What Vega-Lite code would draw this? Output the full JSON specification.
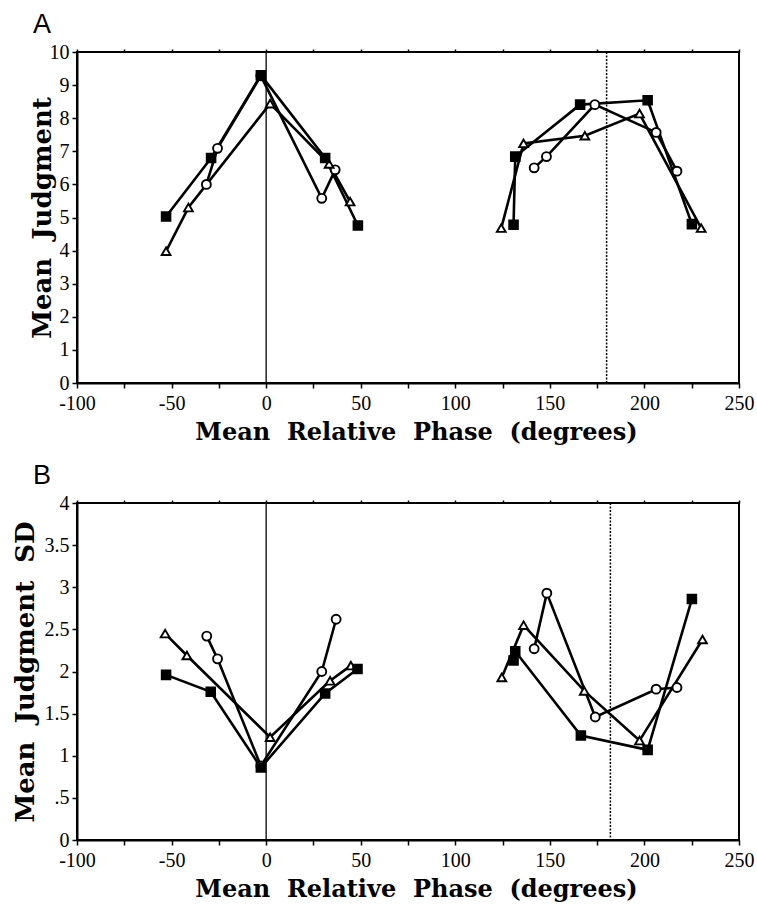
{
  "$schema": "https://vega.github.io/schema/vega-lite/v6.json",
  "background": "white",
  "padding": {"left": 11, "top": 10, "right": 0, "bottom": 0},
  "spacing": 16,
  "config": {
    "view": {"stroke": "black", "strokeWidth": 2},
    "axis": {"domainColor": "black", "domainWidth": 2, "tickColor": "black", "tickWidth": 1.5, "tickSize": 5, "labelFont": "Liberation Serif", "labelFontSize": 20, "labelColor": "black", "titleFont": "DejaVu Serif", "titleFontSize": 23, "titleFontWeight": "bold", "titleColor": "black", "grid": false, "labelPadding": 3, "labelOverlap": false, "labelFlush": false},
    "title": {"font": "Liberation Sans", "fontSize": 27, "fontWeight": "normal", "color": "black", "anchor": "start", "frame": "group"}
  },
  "datasets": {
    "A": [
      {"g": "cL", "s": "c", "o": 1, "x": -31.6, "y": 6.0},
      {"g": "cL", "s": "c", "o": 2, "x": -25.7, "y": 7.09},
      {"g": "cL", "s": "c", "o": 3, "x": -2.8, "y": 9.28},
      {"g": "cL", "s": "c", "o": 4, "x": 29.4, "y": 5.58},
      {"g": "cL", "s": "c", "o": 5, "x": 36.5, "y": 6.44},
      {"g": "cR", "s": "c", "o": 1, "x": 141.7, "y": 6.5},
      {"g": "cR", "s": "c", "o": 2, "x": 148.2, "y": 6.84},
      {"g": "cR", "s": "c", "o": 3, "x": 173.8, "y": 8.41},
      {"g": "cR", "s": "c", "o": 4, "x": 206.2, "y": 7.57},
      {"g": "cR", "s": "c", "o": 5, "x": 217.2, "y": 6.4},
      {"g": "tL", "s": "t", "o": 1, "x": -52.9, "y": 3.98},
      {"g": "tL", "s": "t", "o": 2, "x": -41.1, "y": 5.3},
      {"g": "tL", "s": "t", "o": 3, "x": 2.1, "y": 8.44},
      {"g": "tL", "s": "t", "o": 4, "x": 33.3, "y": 6.62},
      {"g": "tL", "s": "t", "o": 5, "x": 44.4, "y": 5.48},
      {"g": "tR", "s": "t", "o": 1, "x": 124.3, "y": 4.68},
      {"g": "tR", "s": "t", "o": 2, "x": 136.1, "y": 7.24},
      {"g": "tR", "s": "t", "o": 3, "x": 168.5, "y": 7.47},
      {"g": "tR", "s": "t", "o": 4, "x": 197.4, "y": 8.14},
      {"g": "tR", "s": "t", "o": 5, "x": 230.0, "y": 4.68},
      {"g": "qL", "s": "q", "o": 1, "x": -52.9, "y": 5.03},
      {"g": "qL", "s": "q", "o": 2, "x": -29.1, "y": 6.8},
      {"g": "qL", "s": "q", "o": 3, "x": -2.8, "y": 9.3},
      {"g": "qL", "s": "q", "o": 4, "x": 31.2, "y": 6.8},
      {"g": "qL", "s": "q", "o": 5, "x": 48.5, "y": 4.76},
      {"g": "qR", "s": "q", "o": 1, "x": 130.8, "y": 4.78},
      {"g": "qR", "s": "q", "o": 2, "x": 131.7, "y": 6.84},
      {"g": "qR", "s": "q", "o": 3, "x": 166.0, "y": 8.41},
      {"g": "qR", "s": "q", "o": 4, "x": 201.7, "y": 8.54},
      {"g": "qR", "s": "q", "o": 5, "x": 225.1, "y": 4.8}
    ],
    "B": [
      {"g": "cL", "s": "c", "o": 1, "x": -31.4, "y": 2.42},
      {"g": "cL", "s": "c", "o": 2, "x": -25.7, "y": 2.15},
      {"g": "cL", "s": "c", "o": 3, "x": -2.8, "y": 0.88},
      {"g": "cL", "s": "c", "o": 4, "x": 29.4, "y": 2.0},
      {"g": "cL", "s": "c", "o": 5, "x": 37.0, "y": 2.62},
      {"g": "cR", "s": "c", "o": 1, "x": 141.7, "y": 2.27},
      {"g": "cR", "s": "c", "o": 2, "x": 148.4, "y": 2.93},
      {"g": "cR", "s": "c", "o": 3, "x": 174.0, "y": 1.46},
      {"g": "cR", "s": "c", "o": 4, "x": 206.2, "y": 1.79},
      {"g": "cR", "s": "c", "o": 5, "x": 217.2, "y": 1.81},
      {"g": "tL", "s": "t", "o": 1, "x": -53.4, "y": 2.45},
      {"g": "tL", "s": "t", "o": 2, "x": -41.9, "y": 2.19},
      {"g": "tL", "s": "t", "o": 3, "x": 2.1, "y": 1.22},
      {"g": "tL", "s": "t", "o": 4, "x": 33.8, "y": 1.89},
      {"g": "tL", "s": "t", "o": 5, "x": 44.8, "y": 2.07},
      {"g": "tR", "s": "t", "o": 1, "x": 124.6, "y": 1.93},
      {"g": "tR", "s": "t", "o": 2, "x": 136.1, "y": 2.55},
      {"g": "tR", "s": "t", "o": 3, "x": 168.2, "y": 1.77},
      {"g": "tR", "s": "t", "o": 4, "x": 197.4, "y": 1.18},
      {"g": "tR", "s": "t", "o": 5, "x": 230.7, "y": 2.38},
      {"g": "qL", "s": "q", "o": 1, "x": -52.9, "y": 1.96},
      {"g": "qL", "s": "q", "o": 2, "x": -29.3, "y": 1.76},
      {"g": "qL", "s": "q", "o": 3, "x": -2.8, "y": 0.86},
      {"g": "qL", "s": "q", "o": 4, "x": 31.2, "y": 1.74},
      {"g": "qL", "s": "q", "o": 5, "x": 48.3, "y": 2.03},
      {"g": "qR", "s": "q", "o": 1, "x": 130.8, "y": 2.13},
      {"g": "qR", "s": "q", "o": 2, "x": 131.7, "y": 2.24},
      {"g": "qR", "s": "q", "o": 3, "x": 166.4, "y": 1.24},
      {"g": "qR", "s": "q", "o": 4, "x": 201.7, "y": 1.07},
      {"g": "qR", "s": "q", "o": 5, "x": 225.1, "y": 2.86}
    ]
  },
  "vconcat": [
    {
      "width": 662,
      "height": 331,
      "title": {"text": "A", "dx": -44, "offset": 3},
      "resolve": {"axis": {"x": "independent"}},
      "layer": [
        {
          "data": {"values": [{"x": 0}]},
          "mark": {"type": "rule", "color": "black", "strokeWidth": 1.3},
          "encoding": {"x": {"field": "x", "type": "quantitative", "scale": {"domain": [-100, 250], "nice": false, "zero": false}, "axis": null}}
        },
        {
          "data": {"values": [{"x": 180}]},
          "mark": {"type": "rule", "color": "black", "strokeWidth": 1.5, "strokeDash": [2, 1.5]},
          "encoding": {"x": {"field": "x", "type": "quantitative", "axis": {"orient": "top", "labels": false, "domain": false, "title": null, "values": [-100, -75, -50, -25, 0, 25, 50, 75, 100, 125, 150, 175, 200, 225, 250], "tickSize": 3}}}
        },
        {
          "data": {"name": "A"},
          "mark": {"type": "line", "color": "black", "strokeWidth": 2.6},
          "encoding": {
            "x": {"field": "x", "type": "quantitative", "axis": {"values": [-100, -75, -50, -25, 0, 25, 50, 75, 100, 125, 150, 175, 200, 225, 250], "labelExpr": "datum.value % 50 == 0 ? '' + datum.value : ''", "labelFont": "Liberation Serif", "labelFontSize": 20, "labelPadding": 5, "title": "Mean\u00a0 Relative\u00a0 Phase\u00a0 (degrees)", "titleFontSize": 24, "titleX": 339, "titlePadding": 7}},
            "y": {"field": "y", "type": "quantitative", "scale": {"domain": [0, 10], "nice": false}, "axis": {"values": [0, 1, 2, 3, 4, 5, 6, 7, 8, 9, 10], "labelFont": "Liberation Serif", "labelFontSize": 20, "title": "Mean\u00a0 Judgment", "titleFontSize": 26, "titlePadding": -6}},
            "detail": {"field": "g"},
            "order": {"field": "o"}
          }
        },
        {
          "data": {"name": "A"},
          "mark": {"type": "point", "filled": true, "stroke": "black", "strokeWidth": 1.9, "opacity": 1},
          "encoding": {
            "x": {"field": "x", "type": "quantitative", "axis": null},
            "y": {"field": "y", "type": "quantitative", "axis": {"values": [0, 1, 2, 3, 4, 5, 6, 7, 8, 9, 10], "labelFont": "Liberation Serif", "labelFontSize": 20, "title": "Mean\u00a0 Judgment", "titleFontSize": 26, "titlePadding": -6}},
            "shape": {"field": "s", "type": "nominal", "scale": {"domain": ["c", "t", "q"], "range": ["circle", "triangle-up", "square"]}, "legend": null},
            "fill": {"field": "s", "type": "nominal", "scale": {"domain": ["c", "t", "q"], "range": ["white", "white", "black"]}, "legend": null},
            "size": {"field": "s", "type": "nominal", "scale": {"domain": ["c", "t", "q"], "range": [80, 75, 120]}, "legend": null}
          }
        }
      ]
    },
    {
      "width": 662,
      "height": 337,
      "title": {"text": "B", "dx": -44, "offset": 3},
      "resolve": {"axis": {"x": "independent"}},
      "layer": [
        {
          "data": {"values": [{"x": 0}]},
          "mark": {"type": "rule", "color": "black", "strokeWidth": 1.3},
          "encoding": {"x": {"field": "x", "type": "quantitative", "scale": {"domain": [-100, 250], "nice": false, "zero": false}, "axis": null}}
        },
        {
          "data": {"values": [{"x": 182}]},
          "mark": {"type": "rule", "color": "black", "strokeWidth": 1.5, "strokeDash": [2, 1.5]},
          "encoding": {"x": {"field": "x", "type": "quantitative", "axis": {"orient": "top", "labels": false, "domain": false, "title": null, "values": [-100, -75, -50, -25, 0, 25, 50, 75, 100, 125, 150, 175, 200, 225, 250], "tickSize": 3}}}
        },
        {
          "data": {"name": "B"},
          "mark": {"type": "line", "color": "black", "strokeWidth": 2.6},
          "encoding": {
            "x": {"field": "x", "type": "quantitative", "axis": {"values": [-100, -75, -50, -25, 0, 25, 50, 75, 100, 125, 150, 175, 200, 225, 250], "labelExpr": "datum.value % 50 == 0 ? '' + datum.value : ''", "labelFont": "Liberation Serif", "labelFontSize": 20, "labelPadding": 5, "title": "Mean\u00a0 Relative\u00a0 Phase\u00a0 (degrees)", "titleFontSize": 24, "titleX": 339, "titlePadding": 7}},
            "y": {"field": "y", "type": "quantitative", "scale": {"domain": [0, 4], "nice": false}, "axis": {"values": [0, 0.5, 1, 1.5, 2, 2.5, 3, 3.5, 4], "labelExpr": "datum.value == 0.5 ? '.5' : '' + datum.value", "labelFont": "Liberation Serif", "labelFontSize": 20, "title": "Mean\u00a0 Judgment\u00a0 SD", "titleFontSize": 26, "titlePadding": 6}},
            "detail": {"field": "g"},
            "order": {"field": "o"}
          }
        },
        {
          "data": {"name": "B"},
          "mark": {"type": "point", "filled": true, "stroke": "black", "strokeWidth": 1.9, "opacity": 1},
          "encoding": {
            "x": {"field": "x", "type": "quantitative", "axis": null},
            "y": {"field": "y", "type": "quantitative", "axis": {"values": [0, 0.5, 1, 1.5, 2, 2.5, 3, 3.5, 4], "labelExpr": "datum.value == 0.5 ? '.5' : '' + datum.value", "labelFont": "Liberation Serif", "labelFontSize": 20, "title": "Mean\u00a0 Judgment\u00a0 SD", "titleFontSize": 26, "titlePadding": 6}},
            "shape": {"field": "s", "type": "nominal", "scale": {"domain": ["c", "t", "q"], "range": ["circle", "triangle-up", "square"]}, "legend": null},
            "fill": {"field": "s", "type": "nominal", "scale": {"domain": ["c", "t", "q"], "range": ["white", "white", "black"]}, "legend": null},
            "size": {"field": "s", "type": "nominal", "scale": {"domain": ["c", "t", "q"], "range": [80, 75, 120]}, "legend": null}
          }
        }
      ]
    }
  ]
}
